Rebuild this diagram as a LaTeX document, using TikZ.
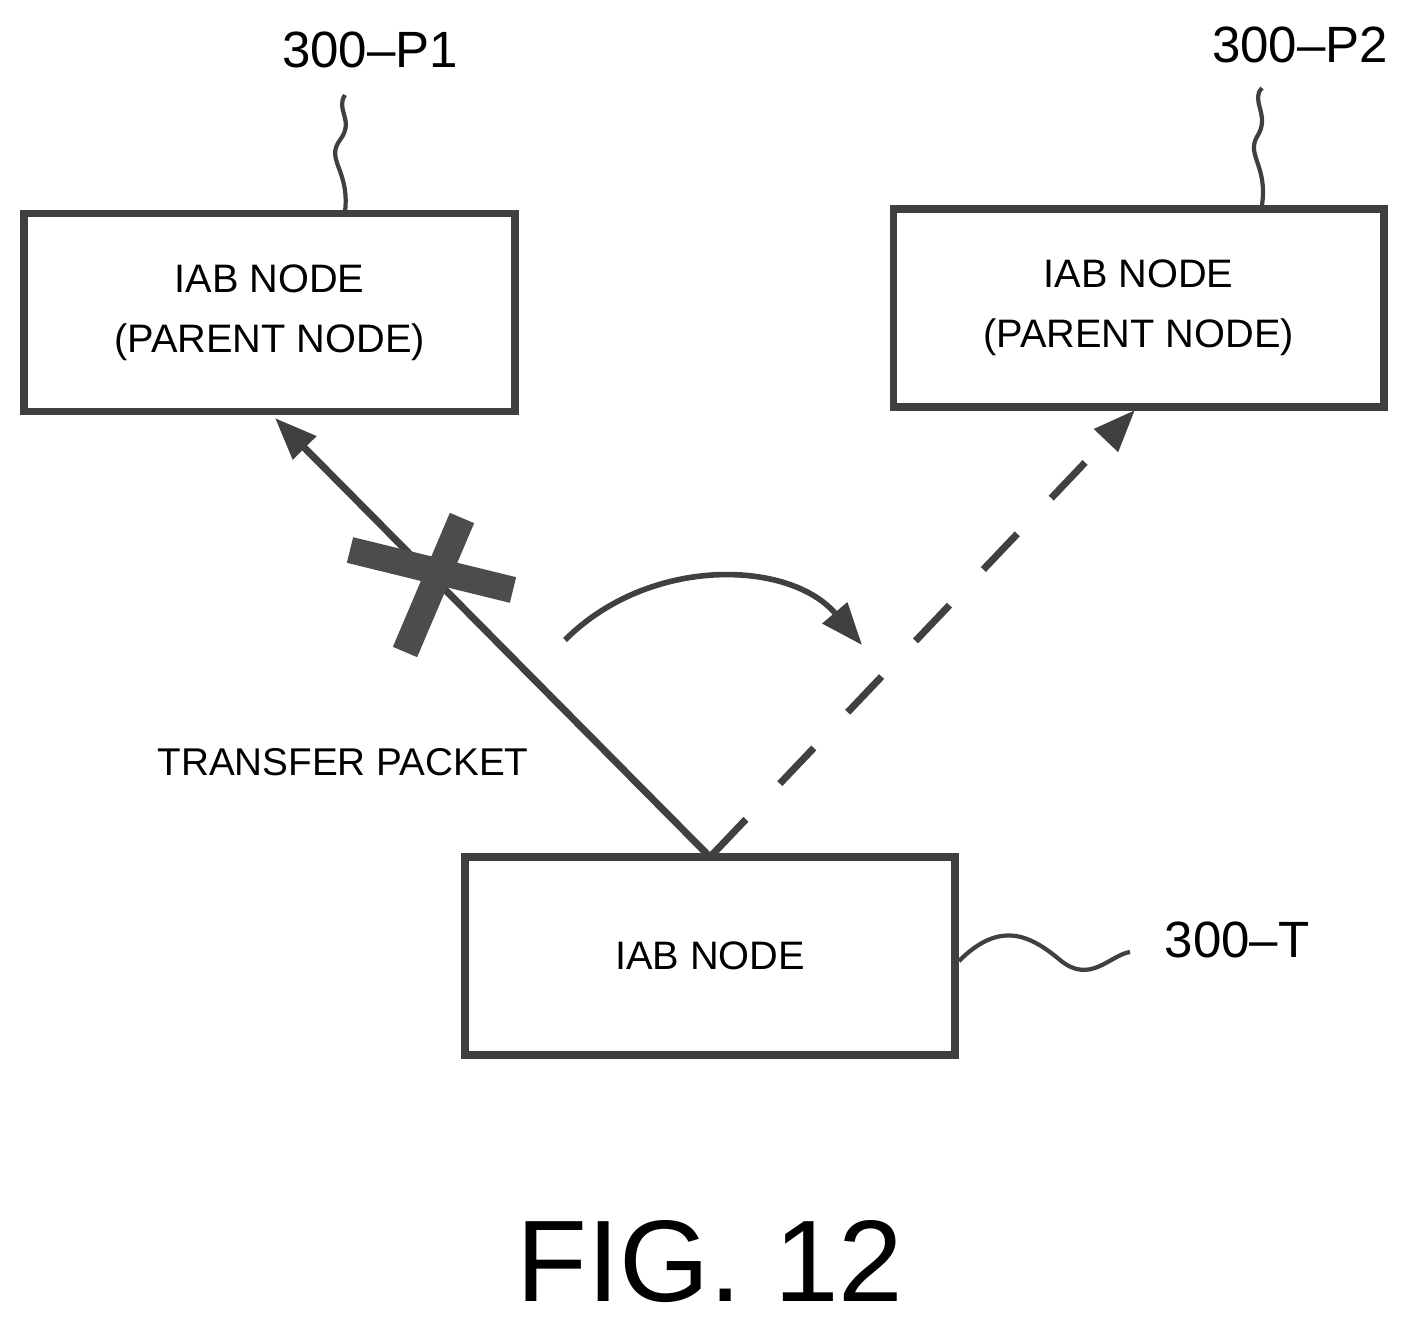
\documentclass[tikz,border=0pt]{standalone}
\usepackage{fontspec}
\setmainfont{Liberation Sans}
\usetikzlibrary{arrows.meta}
\begin{document}
\begin{tikzpicture}
[
x=0.01cm, y=-0.01cm,
IabBox/.style={rectangle, draw=black!75, line width=2.2pt, minimum width=4.9cm, minimum height=1.98cm, align=center, font=\fontsize{11.3}{17}\selectfont},
RefLabel/.style={font=\fontsize{14.5}{17}\selectfont},
Squiggle/.style={draw=black!75, line width=1.2pt},
Link/.style={draw=black!75, line width=2pt, -{Triangle[length=12pt,width=9pt]}},
DashLink/.style={Link, dash pattern=on 14pt off 14pt},
Cross/.style={draw=black!70, line width=7.5pt},
]
\useasboundingbox (0,0) rectangle (1415,1331);

\node[IabBox] (p1) at (269.5,312.5) {IAB NODE\\(PARENT NODE)};
\node[IabBox] (p2) at (1138.5,308) {IAB NODE\\(PARENT NODE)};
\node[IabBox] (t) at (710,956) {IAB NODE};

\node[RefLabel] (lp1) at (370,50) {300--P1};
\node[RefLabel] (lp2) at (1300,45) {300--P2};
\node[RefLabel] (lt) at (1237,940) {300--T};

\draw[Squiggle] (345,212) .. controls (350,170) and (325,160) .. (340,140) .. controls (355,120) and (335,110) .. (345,95);
\draw[Squiggle] (1262,205) .. controls (1268,165) and (1245,155) .. (1258,135) .. controls (1270,115) and (1250,100) .. (1262,88);
\draw[Squiggle] (t.east) ++(0,5) .. controls (1000,920) and (1030,935) .. (1060,960) .. controls (1090,985) and (1110,955) .. (1130,952);

\coordinate (tl) at (708,855);
\coordinate (tr) at (712,855);
\draw[Link] (tl) -- (275,418);
\draw[DashLink] (tr) -- (1135,410);

% blocked link
\draw[Cross] (350,550) -- (513,590);
\draw[Cross] (405,652) -- (462,518);

\draw[Link, line width=1.6pt] (565,640) .. controls (650,555) and (790,560) .. (862,645);

\node[font=\fontsize{11}{14}\selectfont] (tp) at (343,762) {TRANSFER PACKET};
\node[font=\fontsize{33}{40}\selectfont] (fig) at (710,1262) {FIG. 12};
\end{tikzpicture}
\end{document}
